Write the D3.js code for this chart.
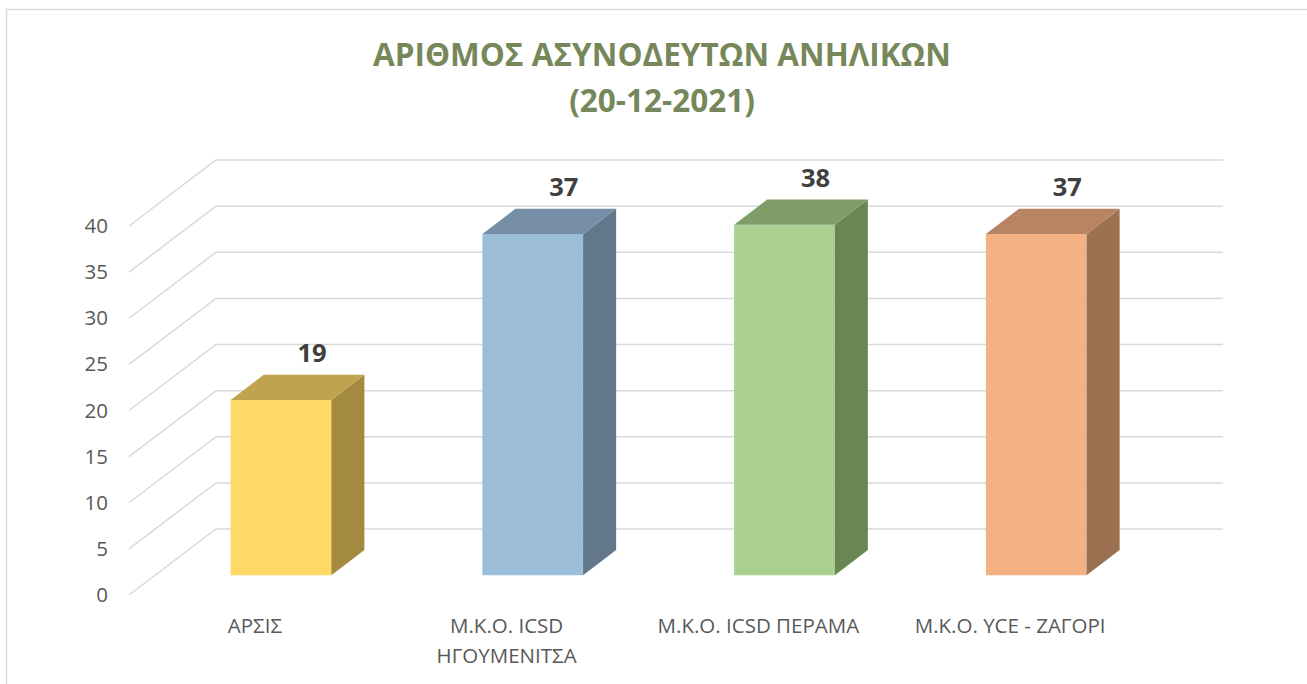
<!DOCTYPE html>
<html>
<head>
<meta charset="utf-8">
<script src="https://cdn.jsdelivr.net/npm/d3@7"></script>
<style>
  html, body { margin: 0; padding: 0; background: #ffffff; }
  svg { display: block; }
</style>
</head>
<body>
<svg id="chart" width="1307" height="684"></svg>
<script>
// ---- data ----
const titleLines = ["ΑΡΙΘΜΟΣ ΑΣΥΝΟΔΕΥΤΩΝ ΑΝΗΛΙΚΩΝ", "(20-12-2021)"];
const categories = ["ΑΡΣΙΣ", "Μ.Κ.Ο. ICSD ΗΓΟΥΜΕΝΙΤΣΑ", "Μ.Κ.Ο. ICSD ΠΕΡΑΜΑ", "Μ.Κ.Ο. YCE - ΖΑΓΟΡΙ"];
const values = [19, 37, 38, 37];
const yTicks = [0, 5, 10, 15, 20, 25, 30, 35, 40];
const frontColors = ["#FED966", "#9DBED9", "#A9D08E", "#F4B183"];
const topColors   = ["#C0A34D", "#768FA6", "#7F9D69", "#B98462"];
const sideColors  = ["#A38A3F", "#62788A", "#6A8655", "#9B7152"];

// ---- layout ----
const svg = d3.select("#chart");
const W = 1307, H = 684;
const frontLeft = 129, backRight = 1223;
const DX = 87, DY = 66;           // depth projection (front -> back)
const zFront = 0.30, zBack = 0.68; // bar occupies this depth slice

const y = d3.scaleLinear().domain([0, 40]).range([595, 226]);
const x = d3.scaleBand().domain(categories).range([frontLeft, backRight - DX]).padding(0);
const barW = x.bandwidth() * 0.40;

const P = (px, v, z) => [px + z * DX, y(v) - z * DY];

// border
svg.append("rect").attr("x", 6.5).attr("y", 9.5).attr("width", W).attr("height", H)
  .attr("fill", "none").attr("stroke", "#d9d9d9").attr("stroke-width", 1.5);

// title
const title = svg.append("text").attr("text-anchor", "middle")
  .attr("font-family", "'Open Sans', sans-serif").attr("font-weight", "bold")
  .attr("font-size", 31.5).attr("fill", "#76875A");
titleLines.forEach((t, i) => {
  title.append("tspan").attr("x", 662).attr("y", 66 + i * 46).text(t);
});

// gridlines (floor wall + back wall)
const line = d3.line();
svg.append("g").selectAll("path").data(yTicks).join("path")
  .attr("d", v => line([P(frontLeft, v, 0), P(frontLeft, v, 1), [backRight, y(v) - DY]]))
  .attr("fill", "none").attr("stroke", "#d9d9d9").attr("stroke-width", 1.5);

// y tick labels
const yAxis = d3.axisLeft(y).tickValues(yTicks).tickSize(0).tickPadding(0);
const ga = svg.append("g").attr("transform", "translate(108,0)").call(yAxis);
ga.select(".domain").remove();
ga.selectAll("text").attr("font-family", "'Open Sans', sans-serif")
  .attr("font-size", 20.5).attr("fill", "#595959");

// bars
const bars = svg.append("g").selectAll("g").data(values).join("g");
const poly = pts => "M" + pts.map(p => p.join(",")).join("L") + "Z";
bars.each(function (v, i) {
  const g = d3.select(this);
  const x0 = x(categories[i]) + (x.bandwidth() - barW) / 2;
  const x1 = x0 + barW;
  // front
  g.append("path").attr("d", poly([P(x0, 0, zFront), P(x1, 0, zFront), P(x1, v, zFront), P(x0, v, zFront)]))
    .attr("fill", frontColors[i]);
  // side
  g.append("path").attr("d", poly([P(x1, 0, zFront), P(x1, 0, zBack), P(x1, v, zBack), P(x1, v, zFront)]))
    .attr("fill", sideColors[i]);
  // top
  g.append("path").attr("d", poly([P(x0, v, zFront), P(x1, v, zFront), P(x1, v, zBack), P(x0, v, zBack)]))
    .attr("fill", topColors[i]);
  // value label
  const c = P((x0 + x1) / 2, v, zBack);
  g.append("text").attr("x", c[0] - 2).attr("y", c[1] - 13)
    .attr("text-anchor", "middle").attr("font-family", "'Open Sans', sans-serif")
    .attr("font-weight", "bold").attr("font-size", 25.5).attr("fill", "#404040").text(v);
});

// category labels (wrapped)
const catG = svg.append("g");
categories.forEach(c => {
  const t = catG.append("text").attr("text-anchor", "middle")
    .attr("font-family", "'Open Sans', sans-serif").attr("font-size", 20.5).attr("fill", "#595959");
  const words = c.split(" ");
  let lines = [], cur = [];
  const cx = x(c) + x.bandwidth() / 2;
  const probe = t.append("tspan");
  words.forEach(w => {
    const test = cur.concat([w]).join(" ");
    probe.text(test);
    if (probe.node().getComputedTextLength() > 235 && cur.length) {
      lines.push(cur.join(" ")); cur = [w];
    } else cur.push(w);
  });
  lines.push(cur.join(" "));
  probe.remove();
  lines.forEach((l, k) => t.append("tspan").attr("x", cx).attr("y", 633 + k * 30).text(l));
});
</script>
</body>
</html>
